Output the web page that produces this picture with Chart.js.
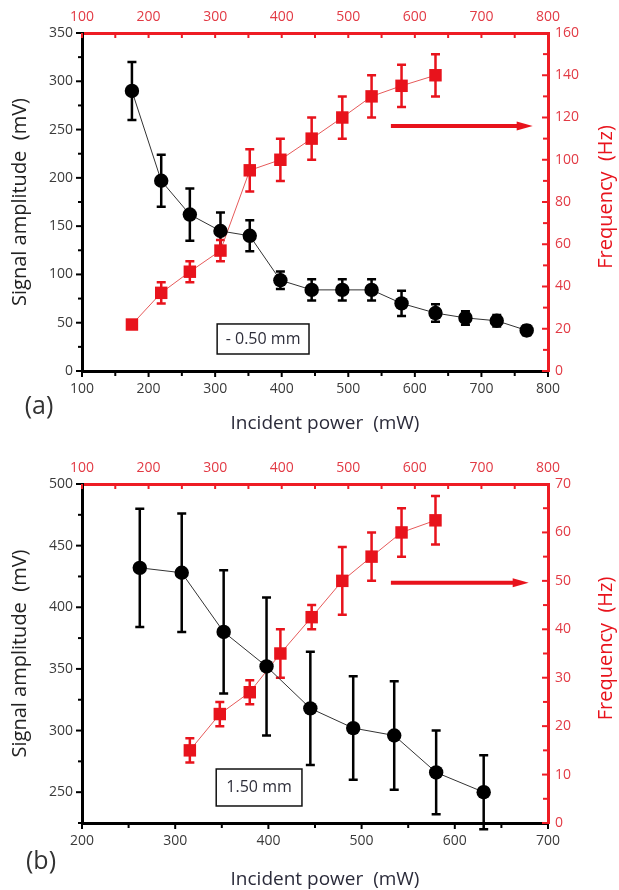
<!DOCTYPE html>
<html><head><meta charset="utf-8">
<script src="https://cdn.jsdelivr.net/npm/chart.js@4.4.1/dist/chart.umd.min.js"></script>
<style>html,body{margin:0;padding:0;background:#fff;width:619px;height:890px;overflow:hidden}</style>
</head><body>
<canvas id="ca" width="619" height="440" style="position:absolute;left:0;top:0"></canvas>
<canvas id="cb" width="619" height="450" style="position:absolute;left:0;top:440px"></canvas>
<script>
// ---------- Panel (a) data ----------
const powerA    = [175, 219, 262, 308, 352, 398, 445, 491, 535, 580, 631, 676, 723, 768];
const ampA      = [290, 197, 162, 145, 140, 94, 84, 84, 84, 70, 60, 55, 52, 42];
const ampErrA   = [30, 27, 27, 19, 16, 9, 11, 11, 11, 13, 9, 7, 6, 5];
const fPowerA   = [175, 219, 262, 308, 352, 398, 445, 491, 535, 580, 631];
const freqA     = [22, 37, 47, 57, 95, 100, 110, 120, 130, 135, 140];
const freqErrA  = [2, 5, 5, 5, 10, 10, 10, 10, 10, 10, 10];
// ---------- Panel (b) data ----------
const powerB    = [262, 307, 352, 398, 445, 491, 535, 580, 631];
const ampB      = [432, 428, 380, 352, 318, 302, 296, 266, 250];
const ampErrB   = [48, 48, 50, 56, 46, 42, 44, 34, 30];
const fPowerB   = [262, 307, 352, 398, 445, 491, 535, 580, 631];
const freqB     = [15, 22.5, 27, 35, 42.5, 50, 55, 60, 62.5];
const freqErrB  = [2.5, 2.5, 2.5, 5, 2.5, 7, 5, 5, 5];
// ---------- axes: [min, max, labelStep, minorStep] ----------
const xBottomA = [100, 800, 100, 50];
const xTopA    = [100, 800, 100, 50];
const yLeftA   = [0, 350, 50, 25];
const yRightA  = [0, 160, 20, 10];
const xBottomB = [200, 700, 100, 50];
const xTopB    = [100, 800, 100, 50];
const yLeftB   = [225, 500, 50, 25];
const yRightB  = [0, 70, 10, 5];
// ---------- texts ----------
const xTitle = 'Incident power  (mW)';
const yTitle = 'Signal amplitude  (mV)';
const y2Title = 'Frequency  (Hz)';
const boxTextA = '- 0.50 mm';
const boxTextB = '1.50 mm';
// annotation anchors in data units
const arrowA = [564, 777, 116];   // x2 start, x2 end, y2
const arrowB = [564, 771, 49.6];
const boxA = [303, 441, 17.6, 48.7];  // x0,x1 (x), y0,y1 (y)
const boxB = [344, 436, 238.8, 268.8];

const FONT = "'Open Sans', 'Noto Sans', sans-serif";
const RED = '#e8131c';
const RED_AX = '#ee1c24';
const RED_TXT = '#e23a44';
const BLK_TXT = '#3a3a3a';

function isMultiple(v, step){ const r = v/step; return Math.abs(r - Math.round(r)) < 1e-6; }

function tickMarks(c, chart, scale, step, color, majorSeg, minorSeg){
  const a = chart.chartArea;
  c.save(); c.strokeStyle = color; c.lineWidth = 2;
  scale.ticks.forEach(t => {
    const seg = isMultiple(t.value, step) ? majorSeg : minorSeg;
    const p = scale.getPixelForValue(t.value);
    c.beginPath();
    if (scale.position === 'bottom') { c.moveTo(p, a.bottom + seg[0]); c.lineTo(p, a.bottom + seg[1]); }
    else if (scale.position === 'top') { c.moveTo(p, a.top + seg[0]); c.lineTo(p, a.top + seg[1]); }
    else if (scale.position === 'left') { c.moveTo(a.left + seg[0], p); c.lineTo(a.left + seg[1], p); }
    else { c.moveTo(a.right + seg[0], p); c.lineTo(a.right + seg[1], p); }
    c.stroke();
  });
  c.restore();
}

function panelPlugin(P){
  return {
    id: 'panel' + P.letter,
    beforeDatasetsDraw(chart){
      const c = chart.ctx;
      chart.data.datasets.forEach((ds, di) => {
        const xs = chart.scales[ds.xAxisID], ys = chart.scales[ds.yAxisID];
        c.save(); c.strokeStyle = ds.errColor; c.lineWidth = 2.5;
        ds.data.forEach((pt, i) => {
          const e = ds.err[i];
          const px = xs.getPixelForValue(pt.x);
          const top = ys.getPixelForValue(pt.y + e), bot = ys.getPixelForValue(pt.y - e);
          c.beginPath();
          c.moveTo(px, top); c.lineTo(px, bot);
          c.moveTo(px - 4.5, top); c.lineTo(px + 4.5, top);
          c.moveTo(px - 4.5, bot); c.lineTo(px + 4.5, bot);
          c.stroke();
        });
        c.restore();
      });
    },
    afterDraw(chart){
      const c = chart.ctx, a = chart.chartArea, S = chart.scales;
      tickMarks(c, chart, S.y,  P.yl[2], '#000', [-6, 0], [-4, 2]);
      tickMarks(c, chart, S.x,  P.xb[2], '#000', [0, 6], [0, 5]);
      tickMarks(c, chart, S.x2, P.xt[2], RED_AX, [0, 5], [0, 5]);
      tickMarks(c, chart, S.y2, P.yr[2], RED_AX, [-6, 1], [-5, 0]);
      // arrow
      const ax0 = S.x2.getPixelForValue(P.arrow[0]), ax1 = S.x2.getPixelForValue(P.arrow[1]);
      const ay = S.y2.getPixelForValue(P.arrow[2]);
      c.save();
      c.strokeStyle = RED; c.fillStyle = RED; c.lineWidth = 4;
      c.beginPath(); c.moveTo(ax0, ay); c.lineTo(ax1 - 14, ay); c.stroke();
      c.beginPath(); c.moveTo(ax1, ay); c.lineTo(ax1 - 16, ay - 4.5); c.lineTo(ax1 - 16, ay + 4.5); c.closePath(); c.fill();
      c.restore();
      // label box
      const bx0 = S.x.getPixelForValue(P.box[0]), bx1 = S.x.getPixelForValue(P.box[1]);
      const by0 = S.y.getPixelForValue(P.box[2]), by1 = S.y.getPixelForValue(P.box[3]);
      c.save();
      c.strokeStyle = '#111'; c.lineWidth = 1.5;
      c.strokeRect(bx0, by1, bx1 - bx0, by0 - by1);
      c.fillStyle = '#2e2e3a'; c.font = '16px ' + FONT; c.textAlign = 'center'; c.textBaseline = 'middle';
      c.fillText(P.boxText, (bx0 + bx1) / 2, (by0 + by1) / 2);
      c.restore();
      // panel letter
      c.save();
      c.fillStyle = '#333'; c.font = '25px ' + FONT; c.textAlign = 'center'; c.textBaseline = 'middle';
      c.fillText('(' + P.letter + ')', P.letterPos[0], P.letterPos[1]);
      // bottom title
      c.fillStyle = '#2b2b3a'; c.font = '19px ' + FONT;
      c.fillText(xTitle, (a.left + a.right) / 2 + 10, P.xTitleY);
      // right title (reads bottom to top)
      c.translate(chart.width - 13, (a.top + a.bottom) / 2 - 5);
      c.rotate(-Math.PI / 2);
      c.fillStyle = RED; c.font = '20px ' + FONT;
      c.fillText(y2Title, 0, 0);
      c.restore();
    }
  };
}

function axis(pos, rng, color, txtColor, pad, fitProp, fitVal, extra){
  const o = {
    type: 'linear', position: pos, min: rng[0], max: rng[1],
    ticks: { stepSize: rng[3], autoSkip: false, maxRotation: 0, padding: pad,
      font: { family: FONT, size: 14 }, color: txtColor,
      callback: v => isMultiple(v, rng[2]) ? String(v) : '' },
    grid: { display: false, drawTicks: false },
    border: { display: true, color: color, width: 3 },
    afterFit: s => { s[fitProp] = fitVal; }
  };
  return Object.assign(o, extra || {});
}

function makeChart(id, P){
  return new Chart(document.getElementById(id), {
    type: 'line',
    data: { datasets: [
      { data: P.power.map((x, i) => ({ x: x, y: P.amp[i] })), err: P.ampErr, errColor: '#000',
        xAxisID: 'x', yAxisID: 'y', borderColor: '#333', borderWidth: 1,
        pointStyle: 'circle', pointRadius: 7.2, pointBackgroundColor: '#000', pointBorderWidth: 0, tension: 0, clip: false },
      { data: P.fpower.map((x, i) => ({ x: x, y: P.freq[i] })), err: P.freqErr, errColor: RED,
        xAxisID: 'x2', yAxisID: 'y2', borderColor: '#e65a5a', borderWidth: 1,
        pointStyle: 'rect', pointRadius: 8.8, pointBackgroundColor: RED, pointBorderWidth: 0, tension: 0, clip: false }
    ]},
    options: {
      responsive: false, animation: false, devicePixelRatio: 1,
      layout: { padding: 0 },
      plugins: { legend: { display: false }, tooltip: { enabled: false } },
      scales: {
        x:  axis('bottom', P.xb, '#000', BLK_TXT, 10, 'height', P.bottomH),
        x2: axis('top',    P.xt, RED_AX, RED_TXT, 8, 'height', P.topH),
        y:  axis('left',   P.yl, '#000', BLK_TXT, 9, 'width', 82,
              { title: { display: true, text: yTitle, color: '#222', font: { family: FONT, size: 20 }, padding: { top: 8, bottom: 8 } } }),
        y2: axis('right',  P.yr, RED_AX, RED_TXT, 7, 'width', 71)
      }
    },
    plugins: [panelPlugin(P)]
  });
}

makeChart('ca', { letter: 'a', power: powerA, amp: ampA, ampErr: ampErrA, fpower: fPowerA, freq: freqA, freqErr: freqErrA,
  xb: xBottomA, xt: xTopA, yl: yLeftA, yr: yRightA, topH: 33, bottomH: 69,
  arrow: arrowA, box: boxA, boxText: boxTextA, letterPos: [39, 407], xTitleY: 424 });
makeChart('cb', { letter: 'b', power: powerB, amp: ampB, ampErr: ampErrB, fpower: fPowerB, freq: freqB, freqErr: freqErrB,
  xb: xBottomB, xt: xTopB, yl: yLeftB, yr: yRightB, topH: 44, bottomH: 67,
  arrow: arrowB, box: boxB, boxText: boxTextB, letterPos: [41, 422], xTitleY: 440 });
</script>
</body></html>
